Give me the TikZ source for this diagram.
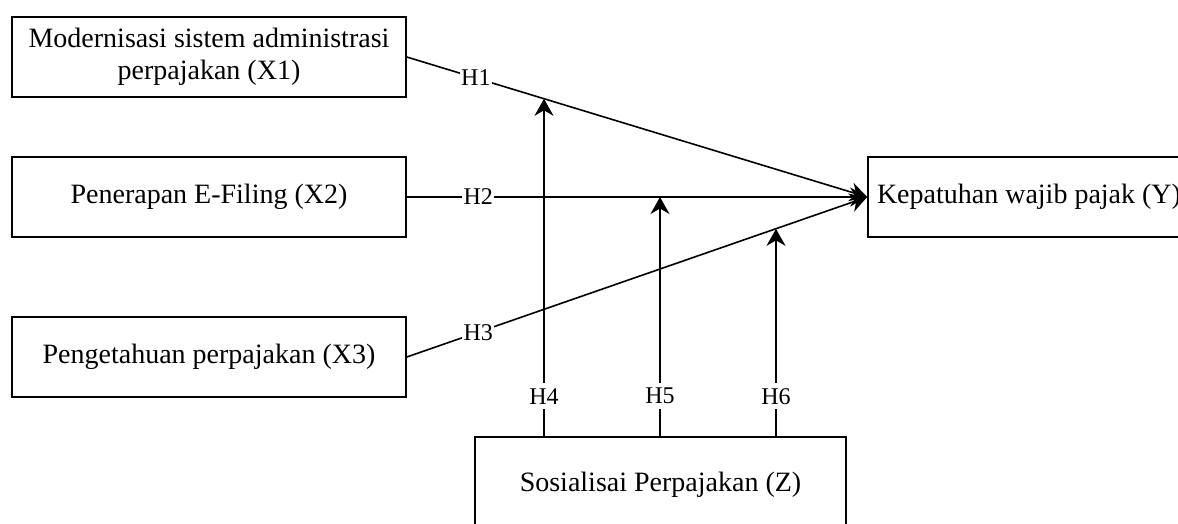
\documentclass[tikz,border=0pt]{standalone}
\usepackage{fontspec}
\setmainfont{Liberation Serif}
\usetikzlibrary{arrows.meta,calc}
\begin{document}
\begin{tikzpicture}[x=1pt,y=-1pt,
  box/.style={draw, line width=1.6pt, inner sep=0pt, align=center, font=\fontsize{28}{32}\selectfont},
  arr/.style={line width=1.6pt, -{Stealth[length=17pt,width=19pt,inset=5.5pt]}},
  lab/.style={fill=white, inner xsep=1.5pt, inner ysep=5pt, font=\fontsize{24}{28}\selectfont}]
\useasboundingbox (0,0) rectangle (1178,523);
\node[box, minimum width=394pt, minimum height=80pt] (x1) at (209,57) {Modernisasi sistem administrasi\\perpajakan (X1)};
\node[box, minimum width=394pt, minimum height=80pt] (x2) at (209,197) {Penerapan E-Filing (X2)};
\node[box, minimum width=394pt, minimum height=80pt] (x3) at (209,357) {Pengetahuan perpajakan (X3)};
\node[box, minimum width=322pt, minimum height=80pt] (y) at (1029,197) {Kepatuhan wajib pajak (Y)};
\node[box, minimum width=371pt, minimum height=96pt] (z) at (660.5,485) {Sosialisai Perpajakan (Z)};

\draw[arr] (x1.east) -- node[lab,pos=0.15]{H1} (y.west);
\draw[arr] (x2.east) -- node[lab,pos=0.155]{H2} (y.west);
\draw[arr] (x3.east) -- node[lab,pos=0.155]{H3} (y.west);

\coordinate (e4) at ($(x1.east)!0.2987!(y.west)$);
\coordinate (e5) at ($(x2.east)!0.5498!(y.west)$);
\coordinate (e6) at ($(x3.east)!0.8009!(y.west)$);
\coordinate (s4) at ($(z.north)+(-116.5,0)$);
\coordinate (s5) at ($(z.north)+(-0.5,0)$);
\coordinate (s6) at ($(z.north)+(115.5,0)$);

\draw[arr] (s4) -- (s4 |- e4);
\draw[arr] (s5) -- (s5 |- e5);
\draw[arr] (s6) -- (s6 |- e6);

\node[lab] (h4) at ($(s4)+(0,-40)$) {H4};
\node[lab] (h5) at ($(s5)+(0,-40)$) {H5};
\node[lab] (h6) at ($(s6)+(0,-40)$) {H6};
\end{tikzpicture}
\end{document}
